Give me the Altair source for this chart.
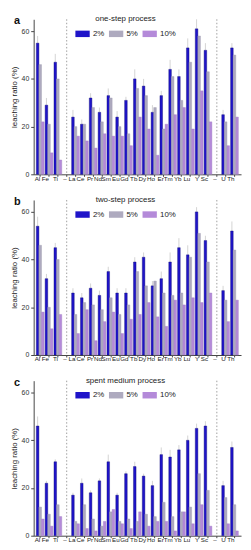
import altair as alt
import pandas as pd

categories = ["Al", "Fe", "Ti", "–1", "La", "Ce", "Pr", "Nd", "Sm", "Eu", "Gd", "Tb",
              "Dy", "Ho", "Er", "Tm", "Yb", "Lu", "Y", "Sc", "–2", "U", "Th"]
elements = ["Al", "Fe", "Ti", "La", "Ce", "Pr", "Nd", "Sm", "Eu", "Gd", "Tb",
            "Dy", "Ho", "Er", "Tm", "Yb", "Lu", "Y", "Sc", "U", "Th"]
series = ["2%", "5%", "10%"]

# panel a: one-step process
a_2 = [55, 29, 47, 24, 21, 32, 26, 33, 24, 31, 40, 37, 26, 33, 44, 41, 53, 61, 52, 25, 53]
a_5 = [46, 21, 40, 20, 21, 28, 22, 32, 20, 17, 36, 33, 28, 19, 41, 31, 47, 58, 43, 22, 50]
a_10 = [22, 9, 6, 16, 14, 11, 17, 16, 16, 12, 24, 19, 8, 21, 25, 28, 19, 35, 22, 12, 24]
a_err = [3, 3, 3.5, 3, 2, 2, 2, 3, 2.5, 1.5, 4, 3, 3, 2, 4, 3, 4, 4, 3, 2, 2]

# panel b: two-step process
b_2 = [54, 32, 45, 26, 24, 28, 25, 35, 26, 26, 39, 41, 29, 32, 39, 45, 42, 60, 48, 27, 52]
b_5 = [46, 20, 40, 17, 22, 21, 19, 24, 17, 21, 35, 29, 31, 26, 25, 26, 41, 51, 39, 23, 44]
b_10 = [18, 11, 17, 9, 19, 6, 14, 18, 9, 15, 17, 22, 16, 12, 23, 21, 24, 22, 26, 14, 23]
b_err = [4, 2, 2, 2, 2, 2, 2, 2, 2, 2, 2, 2, 2, 3, 4, 4, 4, 2, 2, 2, 4]

# panel c: spent medium process
c_2 = [46, 22, 31, 17, 22, 18, 23, 31, 17, 26, 29, 25, 21, 34, 33, 36, 40, 45, 46, 21, 37]
c_5 = [12, 9, 13, 6, 13, 7, 4, 10, 6, 7, 6, 9, 8, 14, 8, 10, 12, 26, 19, 16, 13]
c_10 = [7, 4, 8, 5, 3, 2, 6, 11, 5, 3, 10, 4, 6, 6, 2, 10, 5, 13, 4, 5, 2]
c_err = [4, 1, 1, 1, 2, 1, 1, 3, 1, 1, 2, 1, 2, 3, 3, 2, 2, 2, 2, 2, 2.5]

separators = ["–1", "–2"]
colors = ["#1f14c9", "#aeaabf", "#b48ad9"]
FONT = "Liberation Sans"
H = 157
W = 210


def panel(letter, title, v2, v5, v10, err):
    rows = []
    for i, el in enumerate(elements):
        for s, vals in zip(series, [v2, v5, v10]):
            rows.append({"element": el, "series": s, "value": vals[i]})
    df = pd.DataFrame(rows)
    edf = pd.DataFrame({"element": elements, "series": "2%", "lo": v2,
                        "hi": [v + e for v, e in zip(v2, err)]})

    xscale = alt.Scale(domain=categories, paddingInner=0.12, paddingOuter=0.3)
    xax = alt.Axis(title=None, labelAngle=0, labelFontSize=6.3, labelFont=FONT,
                   labelColor="#222", labelPadding=2, tickSize=2, domainColor="#444",
                   tickColor="#444", labelOverlap=False,
                   labelExpr="substring(datum.value, 0, 1) == '–' ? '–' : datum.value")
    yscale = alt.Scale(domain=[0, 65], nice=False)
    yax = alt.Axis(title="leaching ratio (%)", titleFontSize=8, titleFont=FONT,
                   titleFontWeight="normal", titleColor="#222", values=list(range(0, 61, 10)),
                   labelFontSize=7, labelFont=FONT, labelColor="#333", grid=False,
                   domainColor="#444", tickColor="#444", tickSize=3, titlePadding=3)
    offs = alt.XOffset("series:N", scale=alt.Scale(domain=series, paddingInner=0.0))

    bars = alt.Chart(df).mark_bar(strokeWidth=0.4).encode(
        x=alt.X("element:N", scale=xscale, axis=xax),
        xOffset=offs,
        y=alt.Y("value:Q", scale=yscale, axis=yax),
        color=alt.Color("series:N", scale=alt.Scale(domain=series, range=colors),
                        legend=alt.Legend(orient="none", legendX=42, legendY=-4,
                                          direction="horizontal", title=title,
                                          titleAnchor="middle", titleFontSize=8,
                                          titleFont=FONT, titleFontWeight="normal",
                                          titleColor="#222", labelFontSize=8,
                                          labelFont=FONT, labelColor="#222",
                                          symbolType="M-1,-0.45H1V0.45H-1Z",
                                          symbolSize=210, symbolStrokeWidth=0,
                                          symbolOpacity=1, columnPadding=4,
                                          labelOffset=3, titlePadding=3)),
        stroke=alt.Stroke("series:N", scale=alt.Scale(domain=series,
                          range=["#0d0a70", "#9c98ad", "#a07cc4"]), legend=None),
    )
    errs = alt.Chart(edf).mark_rule(color="#c8c8c8", strokeWidth=0.8).encode(
        x=alt.X("element:N", scale=xscale, bandPosition=0.5),
        xOffset=offs,
        y="lo:Q",
        y2="hi:Q",
    )
    seps = alt.Chart(pd.DataFrame({"element": separators})).mark_rule(
        color="#888", strokeDash=[1.5, 2], strokeWidth=0.8).encode(
        x=alt.X("element:N", scale=xscale, bandPosition=0.5),
        y=alt.value(0), y2=alt.value(H))
    lab = alt.Chart(pd.DataFrame({"t": [letter]})).mark_text(
        fontSize=11, fontWeight="bold", font=FONT, color="#111", align="left",
        baseline="top").encode(text="t:N", x=alt.value(-20), y=alt.value(-4))
    return alt.layer(seps, errs, bars, lab).properties(width=W, height=H)


chart = alt.vconcat(
    panel("a", "one-step process", a_2, a_5, a_10, a_err),
    panel("b", "two-step process", b_2, b_5, b_10, b_err),
    panel("c", "spent medium process", c_2, c_5, c_10, c_err),
    spacing=14,
).resolve_scale(color="independent", stroke="independent").configure_view(
    stroke=None).properties(padding={"left": 2, "top": 4, "right": 2, "bottom": 0})

chart.save("out.html", embed_options={"renderer": "svg", "actions": False})
